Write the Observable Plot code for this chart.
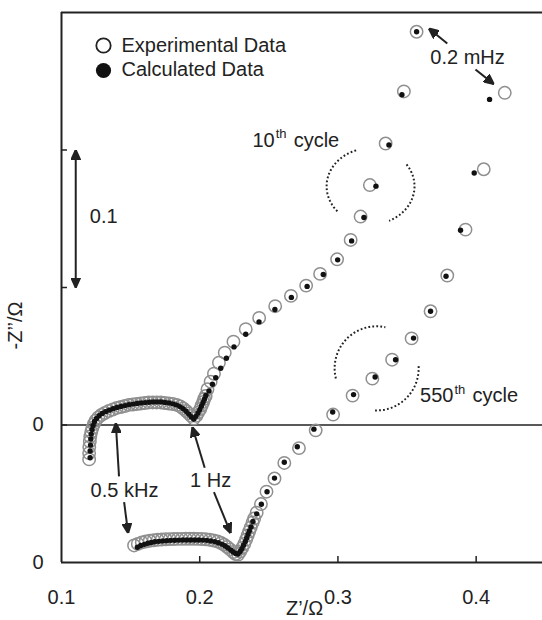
<!DOCTYPE html>
<html><head><meta charset="utf-8">
<script src="https://cdn.jsdelivr.net/npm/d3@7"></script>
<script src="https://cdn.jsdelivr.net/npm/@observablehq/plot@0.6"></script>
<style>
html,body{margin:0;padding:0;background:#fff;}
#chart svg{display:block;}
</style>
</head><body><div id="chart"></div>
<script>
// ---------- data (Z' , -Z'' in ohm) ----------
const OFFSET_10TH = 0.1;            // 10th-cycle curve is shifted up by 0.1 ohm
const xTicks = [0.1, 0.2, 0.3, 0.4];
const xTickInner = [0.2, 0.3, 0.4];
const yZeroLabels = [0, 0.1];       // both "0" origins
const yTickInner = [0.1, 0.2, 0.3];

// 10th cycle – experimental
const exp10 = [[0.1200,-0.0250],[0.1200,-0.0204],[0.1201,-0.0160],[0.1205,-0.0120],[0.1208,-0.0084],[0.1215,-0.0051],[0.1223,-0.0022],[0.1234,0.0007],[0.1248,0.0033],[0.1266,0.0055],[0.1288,0.0073],[0.1313,0.0087],[0.1342,0.0102],[0.1371,0.0113],[0.1400,0.0124],[0.1429,0.0131],[0.1458,0.0138],[0.1487,0.0146],[0.1516,0.0149],[0.1544,0.0153],[0.1573,0.0156],[0.1602,0.0160],[0.1631,0.0164],[0.1660,0.0164],[0.1689,0.0164],[0.1718,0.0164],[0.1747,0.0160],[0.1776,0.0156],[0.1805,0.0153],[0.1834,0.0146],[0.1859,0.0135],[0.1881,0.0120],[0.1902,0.0102],[0.1920,0.0084],[0.1938,0.0066],[0.1957,0.0047],[0.1975,0.0066],[0.1989,0.0091],[0.2004,0.0116],[0.2014,0.0142],[0.2025,0.0167],[0.2032,0.0189],[0.2043,0.0211],[0.2056,0.0260],[0.2079,0.0315],[0.2103,0.0373],[0.2139,0.0453],[0.2181,0.0526],[0.2244,0.0606],[0.2333,0.0697],[0.2430,0.0779],[0.2546,0.0864],[0.2660,0.0939],[0.2770,0.1014],[0.2871,0.1099],[0.2994,0.1205],[0.3092,0.1346],[0.3164,0.1516],[0.3231,0.1745],[0.3345,0.2047],[0.3477,0.2426],[0.3569,0.2860]];
// 10th cycle – calculated
const calc10 = [[0.1207,-0.0238],[0.1207,-0.0189],[0.1210,-0.0146],[0.1212,-0.0102],[0.1215,-0.0066],[0.1221,-0.0033],[0.1228,-0.0004],[0.1239,0.0025],[0.1254,0.0047],[0.1272,0.0067],[0.1294,0.0084],[0.1319,0.0097],[0.1346,0.0108],[0.1373,0.0118],[0.1401,0.0127],[0.1430,0.0135],[0.1459,0.0141],[0.1488,0.0147],[0.1517,0.0152],[0.1546,0.0156],[0.1575,0.0160],[0.1604,0.0163],[0.1633,0.0165],[0.1662,0.0167],[0.1690,0.0167],[0.1719,0.0167],[0.1748,0.0164],[0.1777,0.0160],[0.1805,0.0154],[0.1831,0.0146],[0.1857,0.0134],[0.1880,0.0119],[0.1901,0.0100],[0.1920,0.0080],[0.1938,0.0060],[0.1957,0.0044],[0.1973,0.0063],[0.1988,0.0087],[0.2001,0.0113],[0.2013,0.0138],[0.2024,0.0164],[0.2035,0.0189],[0.2045,0.0215],[0.2067,0.0247],[0.2092,0.0296],[0.2116,0.0344],[0.2152,0.0413],[0.2193,0.0485],[0.2248,0.0568],[0.2333,0.0660],[0.2429,0.0750],[0.2544,0.0840],[0.2663,0.0928],[0.2777,0.1008],[0.2894,0.1095],[0.2998,0.1201],[0.3099,0.1339],[0.3188,0.1509],[0.3275,0.1737],[0.3369,0.2036],[0.3463,0.2402],[0.3569,0.2860]];
// 550th cycle – experimental
const exp550 = [[0.1525,0.0124],[0.1552,0.0135],[0.1581,0.0146],[0.1609,0.0153],[0.1638,0.0158],[0.1667,0.0162],[0.1696,0.0165],[0.1725,0.0167],[0.1754,0.0169],[0.1783,0.0170],[0.1812,0.0171],[0.1841,0.0172],[0.1870,0.0172],[0.1899,0.0173],[0.1928,0.0173],[0.1957,0.0173],[0.1985,0.0172],[0.2014,0.0171],[0.2043,0.0169],[0.2072,0.0165],[0.2101,0.0160],[0.2130,0.0153],[0.2155,0.0142],[0.2177,0.0129],[0.2199,0.0113],[0.2220,0.0095],[0.2242,0.0076],[0.2260,0.0062],[0.2278,0.0058],[0.2293,0.0080],[0.2307,0.0106],[0.2322,0.0135],[0.2336,0.0167],[0.2347,0.0197],[0.2358,0.0226],[0.2369,0.0255],[0.2383,0.0291],[0.2394,0.0320],[0.2412,0.0362],[0.2443,0.0425],[0.2483,0.0515],[0.2541,0.0611],[0.2612,0.0724],[0.2718,0.0832],[0.2839,0.0961],[0.2965,0.1076],[0.3106,0.1214],[0.3249,0.1337],[0.3392,0.1475],[0.3533,0.1630],[0.3670,0.1827],[0.3791,0.2087],[0.3923,0.2421],[0.4055,0.2860],[0.4207,0.3416]];
// 550th cycle – calculated
const calc550 = [[0.1549,0.0111],[0.1573,0.0124],[0.1599,0.0132],[0.1624,0.0140],[0.1649,0.0146],[0.1675,0.0151],[0.1703,0.0154],[0.1732,0.0157],[0.1761,0.0159],[0.1790,0.0161],[0.1819,0.0162],[0.1848,0.0163],[0.1877,0.0164],[0.1906,0.0164],[0.1935,0.0164],[0.1964,0.0164],[0.1993,0.0164],[0.2022,0.0163],[0.2051,0.0161],[0.2079,0.0157],[0.2108,0.0152],[0.2134,0.0144],[0.2159,0.0134],[0.2181,0.0122],[0.2202,0.0107],[0.2224,0.0091],[0.2242,0.0076],[0.2260,0.0066],[0.2278,0.0062],[0.2293,0.0080],[0.2306,0.0102],[0.2318,0.0127],[0.2330,0.0153],[0.2340,0.0178],[0.2349,0.0204],[0.2359,0.0229],[0.2371,0.0258],[0.2385,0.0298],[0.2412,0.0354],[0.2446,0.0424],[0.2487,0.0515],[0.2541,0.0614],[0.2612,0.0729],[0.2706,0.0842],[0.2826,0.0970],[0.2962,0.1095],[0.3113,0.1221],[0.3269,0.1349],[0.3417,0.1475],[0.3547,0.1632],[0.3670,0.1827],[0.3782,0.2082],[0.3887,0.2416],[0.3986,0.2833],[0.4097,0.3368]];

// ---------- annotations (plot coordinates) ----------
const arrows = [
  {x1:0.1416,y1:0.0626,x2:0.1393,y2:0.1014},
  {x1:0.1453,y1:0.0439,x2:0.1482,y2:0.0213},
  {x1:0.2036,y1:0.0689,x2:0.1947,y2:0.0985},
  {x1:0.2103,y1:0.0512,x2:0.2224,y2:0.0213},
  {x1:0.3791,y1:0.3775,x2:0.3658,y2:0.3884},
  {x1:0.3995,y1:0.3586,x2:0.4128,y2:0.3479}
];
const scaleBar = [{x1:0.1103,y1:0.2,x2:0.1103,y2:0.3}];
const labels = [
  {x:0.1456,y:0.0520,text:"0.5 kHz"},
  {x:0.2079,y:0.0599,text:"1 Hz"},
  {x:0.3938,y:0.3672,text:"0.2 mHz"}
];
const scaleLabel = [{x:0.1205,y:0.2518,text:"0.1"}];
const cycleLabels = [
  {x:0.2542,y:0.3071,num:"10"},
  {x:0.3836,y:0.1215,num:"550"}
];
const arcs = [
  {cx:0.3236,cy:0.2736,rx:0.0318,ry:0.0277,a0:139,a1:253},
  {cx:0.3236,cy:0.2736,rx:0.0318,ry:0.0277,a0:-35,a1:66},
  {cx:0.3280,cy:0.1412,rx:0.0304,ry:0.0306,a0:166,a1:283},
  {cx:0.3280,cy:0.1412,rx:0.0304,ry:0.0306,a0:-3,a1:95}
];

// ---------- build ----------
const toRows = (pairs, off) => pairs.map(([x, y]) => ({x, y: y + off}));
const expRows = [...toRows(exp10, OFFSET_10TH), ...toRows(exp550, 0)];
const calcRows = [...toRows(calc10, OFFSET_10TH), ...toRows(calc550, 0)];
const arcRows = arcs.flatMap((a, k) => d3.range(a.a0, a.a1 + 0.01, 2).map(t => ({
  id: k, x: a.cx + a.rx * Math.cos(t * Math.PI / 180), y: a.cy - a.ry * Math.sin(t * Math.PI / 180)
})));

const FONT = "'Liberation Sans', Arial, Helvetica, sans-serif";
const INK = "#222";

function headMarker(color, context) {
  const doc = (context && context.document) || document;
  const ns = "http://www.w3.org/2000/svg";
  const m = doc.createElementNS(ns, "marker");
  m.setAttribute("viewBox", "-10 -5 10 10");
  m.setAttribute("markerWidth", 10);
  m.setAttribute("markerHeight", 10);
  m.setAttribute("markerUnits", "userSpaceOnUse");
  m.setAttribute("refX", 0);
  m.setAttribute("refY", 0);
  m.setAttribute("orient", "auto-start-reverse");
  const p = doc.createElementNS(ns, "path");
  p.setAttribute("d", "M-10,-4.5L0,0L-10,4.5Z");
  p.setAttribute("fill", color && color !== "none" ? color : INK);
  m.appendChild(p);
  return m;
}

function build(marker) {
  return Plot.plot({
    width: 542, height: 620,
    marginLeft: 61, marginRight: 0, marginTop: 12, marginBottom: 58,
    x: {domain: [0.1, 0.448]},
    y: {domain: [0, 0.4]},
    style: {fontFamily: FONT, fontSize: "20px", color: INK, background: "#fff", overflow: "visible"},
    marks: [
      // frame & zero line of the 10th cycle
      Plot.ruleY([OFFSET_10TH], {stroke: INK, strokeWidth: 1.3}),
      Plot.ruleX([0.1], {stroke: INK, strokeWidth: 2}),
      Plot.ruleY([0], {stroke: INK, strokeWidth: 2}),
      Plot.ruleY([0.4], {stroke: INK, strokeWidth: 2}),
      Plot.ruleX(xTickInner, {x: d => d, y1: 0, y2: 0, insetTop: -6, stroke: INK, strokeWidth: 1.5}),
      Plot.ruleY(yTickInner, {y: d => d, x1: 0.1, x2: 0.1, insetRight: -6, stroke: INK, strokeWidth: 1.5}),
      Plot.axisX(xTicks, {tickSize: 0, tickPadding: 27, tickFormat: d3.format(".1f"), label: null, fontSize: 20, fill: INK}),
      Plot.axisY(yZeroLabels, {tickSize: 0, tickPadding: 18, tickFormat: () => "0", label: null, fontSize: 20, fill: INK}),
      Plot.text(["Z\u2019/\u03A9"], {frameAnchor: "bottom", textAnchor: "middle", dx: 2.5, dy: 46, lineAnchor: "middle", fontSize: 20, fill: INK}),
      Plot.text(["-Z\u2019\u2019/\u03A9"], {frameAnchor: "left", textAnchor: "middle", rotate: -90, dx: -46, dy: 38, lineAnchor: "middle", fontSize: 20, fill: INK}),

      // data
      Plot.dot(expRows, {x: "x", y: "y", r: 6.2, stroke: "#8f8f8f", strokeWidth: 1.5, fill: "none"}),
      Plot.dot(calcRows, {x: "x", y: "y", r: 2.7, fill: "#111", stroke: "none"}),

      // dotted arcs
      Plot.line(arcRows, {x: "x", y: "y", z: "id", stroke: INK, strokeWidth: 2, strokeDasharray: "1.8,2.2", strokeLinecap: "butt", curve: "linear"}),

      // arrows
      Plot.link(arrows, {x1: "x1", y1: "y1", x2: "x2", y2: "y2", stroke: INK, strokeWidth: 2, markerEnd: marker}),
      Plot.link(scaleBar, {x1: "x1", y1: "y1", x2: "x2", y2: "y2", stroke: INK, strokeWidth: 2, markerStart: marker, markerEnd: marker}),

      // labels
      Plot.text(labels, {x: "x", y: "y", text: "text", fontSize: 20, fill: INK}),
      Plot.text(scaleLabel, {x: "x", y: "y", text: "text", textAnchor: "start", fontSize: 20, fill: INK}),
      Plot.text(cycleLabels, {x: "x", y: "y", text: "num", textAnchor: "end", fontSize: 20, fill: INK}),
      Plot.text(cycleLabels, {x: "x", y: "y", text: () => "th", textAnchor: "start", dx: 1, dy: -6, fontSize: 13, fill: INK}),
      Plot.text(cycleLabels, {x: "x", y: "y", text: () => "cycle", textAnchor: "start", dx: 19, fontSize: 20, fill: INK}),

      // legend
      Plot.dot([0], {frameAnchor: "top-left", dx: 42, dy: 33, r: 7.2, stroke: INK, strokeWidth: 1.8, fill: "none"}),
      Plot.dot([0], {frameAnchor: "top-left", dx: 42, dy: 58, r: 7.6, fill: "#111", stroke: "none"}),
      Plot.text(["Experimental Data"], {frameAnchor: "top-left", dx: 60, dy: 33, textAnchor: "start", lineAnchor: "middle", fontSize: 20, fill: INK}),
      Plot.text(["Calculated Data"], {frameAnchor: "top-left", dx: 60, dy: 57, textAnchor: "start", lineAnchor: "middle", fontSize: 20, fill: INK})
    ]
  });
}

let svg;
try { svg = build(headMarker); } catch (e) { svg = build("arrow"); }
document.getElementById("chart").append(svg);
</script>
</body></html>
